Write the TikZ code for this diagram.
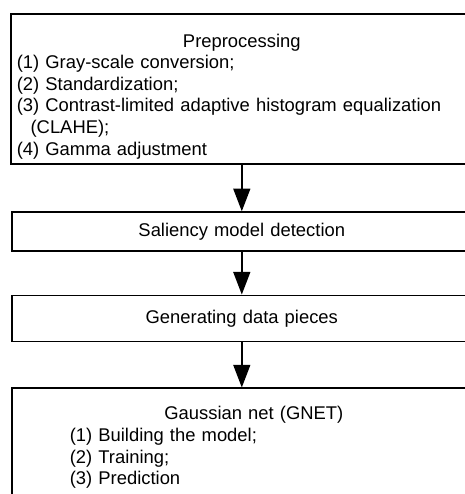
\documentclass[tikz,border=0pt]{standalone}
\usepackage{fontspec}
\setmainfont{Liberation Sans}
\usetikzlibrary{arrows.meta,positioning}

\begin{document}
\begin{tikzpicture}[x=0.75pt, y=-0.75pt, node distance=35pt, every node/.style={font=\fontsize{13.8}{16.2}\selectfont}, box/.style={draw,line width=1.2pt,inner xsep=3.75pt,inner ysep=0pt,text width=337.5pt}, arr/.style={-{Triangle[width=12.75pt,length=17pt]},line width=1.1pt}]
\path[use as bounding box,clip] (0,0) rectangle (465,494);
\node[box,anchor=north west,minimum height=112.5pt,inner xsep=4.5pt,align=left] (pre) at (10,13) {\par\vspace*{5pt}\centering Preprocessing\par\raggedright
(1) Gray-scale conversion;\\
(2) Standardization;\\
(3) Contrast-limited adaptive histogram equalization\\
\hspace*{0.75em}(CLAHE);\\
(4) Gamma adjustment};
\node[box,below=of pre,minimum height=29.25pt,align=center] (sal) {Saliency model detection};
\node[box,below=32pt of sal,minimum height=34.5pt,align=center] (gen) {Generating data pieces};
\node[box,below=34pt of gen.south west,anchor=north west,inner xsep=43.5pt,text width=276pt,minimum height=89pt,align=left] (gnet) {\centering Gaussian net (GNET)\par\raggedright
(1) Building the model;\\
(2) Training;\\
(3) Prediction};
\draw[arr] (pre)--(sal); \draw[arr] (sal)--(gen);
\draw[arr] (gen)--(gen.south |- gnet.north);
\end{tikzpicture}
\end{document}
